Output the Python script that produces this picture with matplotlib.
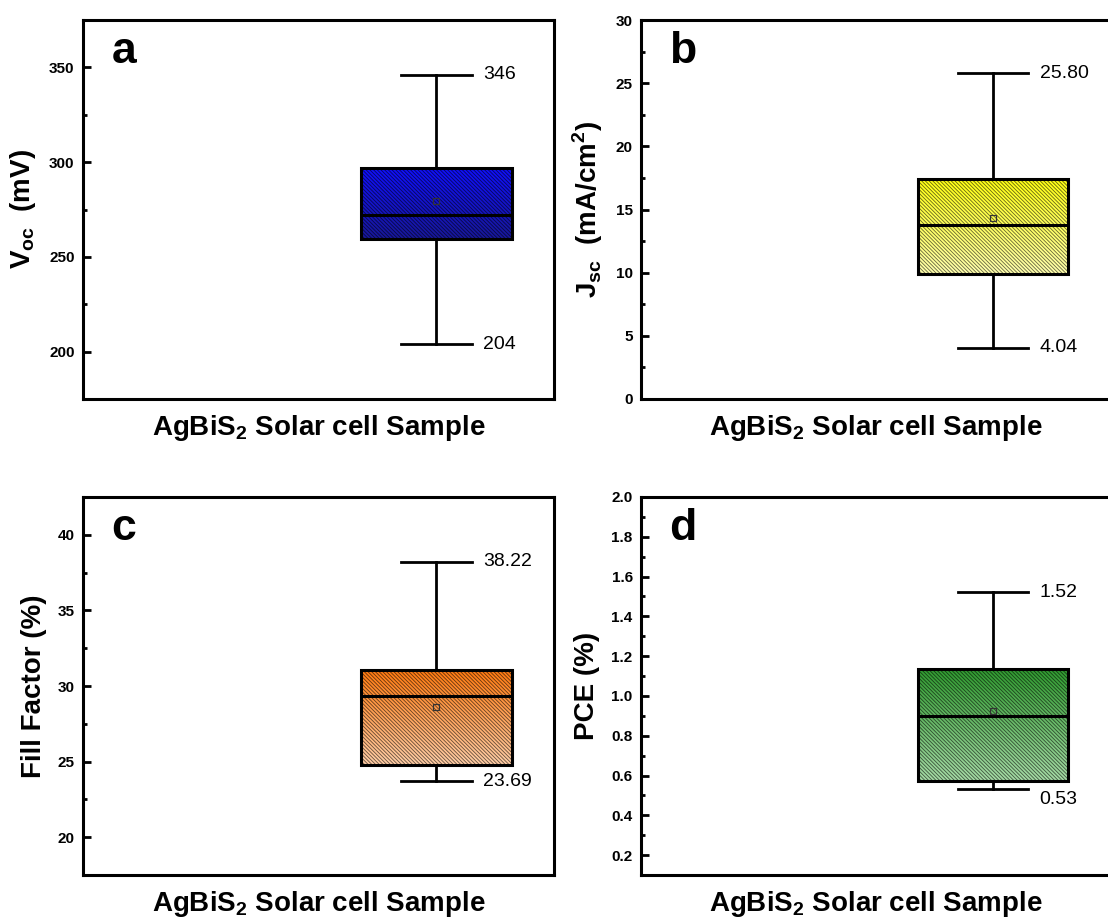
import numpy as np
import matplotlib
matplotlib.use("Agg")
import matplotlib.pyplot as plt
from matplotlib.colors import LinearSegmentedColormap
from matplotlib.patches import PathPatch
from matplotlib.ticker import MultipleLocator

plt.rcParams['font.family'] = ['Liberation Sans', 'DejaVu Sans']
plt.rcParams['mathtext.fontset'] = 'custom'
plt.rcParams['mathtext.rm'] = 'Liberation Sans'
plt.rcParams['mathtext.bf'] = 'Liberation Sans:bold'
plt.rcParams['hatch.linewidth'] = 0.6

# ---- data ----
panels = ['a', 'b', 'c', 'd']
whis_lo = [204, 4.04, 23.69, 0.53]
whis_hi = [346, 25.80, 38.22, 1.52]
q1 = [259.3, 9.9, 24.8, 0.575]
q3 = [296.8, 17.45, 31.05, 1.135]
medians = [272.0, 13.75, 29.35, 0.90]
means = [279.3, 14.3, 28.6, 0.925]
label_fmt = ['{:.0f}', '{:.2f}', '{:.2f}', '{:.2f}']
ylabels = [r'$\mathbf{V_{oc}}$  (mV)',
           r'$\mathbf{J_{sc}}$  (mA/cm$^{\mathbf{2}}$)',
           'Fill Factor (%)',
           'PCE (%)']
ylims = [(175, 375), (0, 30), (17.5, 42.5), (0.1, 2.0)]
major = [50, 5, 5, 0.2]
minor = [25, 2.5, 2.5, 0.1]
top_colors = ['#1010ff', '#ffff10', '#ff7a10', '#2e9a2e']
bot_colors = ['#181898', '#ffffb0', '#ffcfa8', '#a6dca6']
low_label_shift = [0, 0, 0, -7]   # points; the 0.53 label sits under its cap
xlabel = r'AgBiS$_{\mathbf{2}}$ Solar cell Sample'

fig = plt.figure(figsize=(11.08, 9.18), dpi=100)
W, H = 1108.0, 918.0
# right-hand panels run past the figure edge, as in the original crop
boxes_px = [(83, 20, 554, 399), (641, 20, 1110, 399),
            (83, 497, 554, 875), (641, 497, 1110, 875)]

for i in range(4):
    l, t, r, b = boxes_px[i]
    ax = fig.add_axes([l / W, 1 - b / H, (r - l) / W, (b - t) / H])
    stats = [dict(med=medians[i], q1=q1[i], q3=q3[i],
                  whislo=whis_lo[i], whishi=whis_hi[i], mean=means[i],
                  fliers=[])]
    bp = ax.bxp(stats, positions=[1], widths=0.64, capwidths=0.3,
                showmeans=True, patch_artist=True, manage_ticks=False,
                boxprops=dict(facecolor='none', edgecolor='black', linewidth=2.2,
                              zorder=4),
                whiskerprops=dict(color='black', linewidth=2),
                capprops=dict(color='black', linewidth=2),
                medianprops=dict(color='black', linewidth=2.2, zorder=5),
                meanprops=dict(marker='s', markersize=4.5, markerfacecolor='none',
                               markeredgecolor='#333333', markeredgewidth=0.9, zorder=5))
    box = bp['boxes'][0]
    cmap = LinearSegmentedColormap.from_list('g', [bot_colors[i], top_colors[i]])
    grad = np.linspace(0, 1, 256).reshape(-1, 1)
    im = ax.imshow(grad, cmap=cmap, aspect='auto', origin='lower',
                   extent=(1 - 0.32, 1 + 0.32, q1[i], q3[i]), zorder=2)
    im.set_clip_path(box)
    # diagonal hatch over the gradient, semi-transparent dark lines
    ax.add_patch(PathPatch(box.get_path(), facecolor='none', linewidth=0,
                           edgecolor=(0, 0, 0, 0.6), hatch='\\' * 9, zorder=3))

    ax.annotate(label_fmt[i].format(whis_hi[i]), (1.2, whis_hi[i]),
                fontsize=14, va='center', ha='left')
    ax.annotate(label_fmt[i].format(whis_lo[i]), (1.2, whis_lo[i]),
                xytext=(0, low_label_shift[i]), textcoords='offset points',
                fontsize=14, va='center', ha='left')

    ax.set_xlim(-0.5, 1.5)
    ax.set_ylim(*ylims[i])
    ax.yaxis.set_major_locator(MultipleLocator(major[i]))
    ax.yaxis.set_minor_locator(MultipleLocator(minor[i]))
    ax.set_xticks([])
    ax.tick_params(axis='y', which='both', direction='in', width=2,
                   labelsize=11, pad=6)
    ax.tick_params(axis='y', which='major', length=6)
    ax.tick_params(axis='y', which='minor', length=3)
    for lab in ax.get_yticklabels():
        lab.set_fontweight('bold')
    for s in ax.spines.values():
        s.set_linewidth(2.2)

    ax.set_ylabel(ylabels[i], fontsize=20, fontweight='bold', labelpad=8)
    ax.set_xlabel(xlabel, fontsize=20, fontweight='bold', labelpad=10)
    ax.text(0.06, 0.97, panels[i], transform=ax.transAxes, fontsize=32,
            fontweight='bold', va='top', ha='left')

fig.savefig('out.png', dpi=100)
